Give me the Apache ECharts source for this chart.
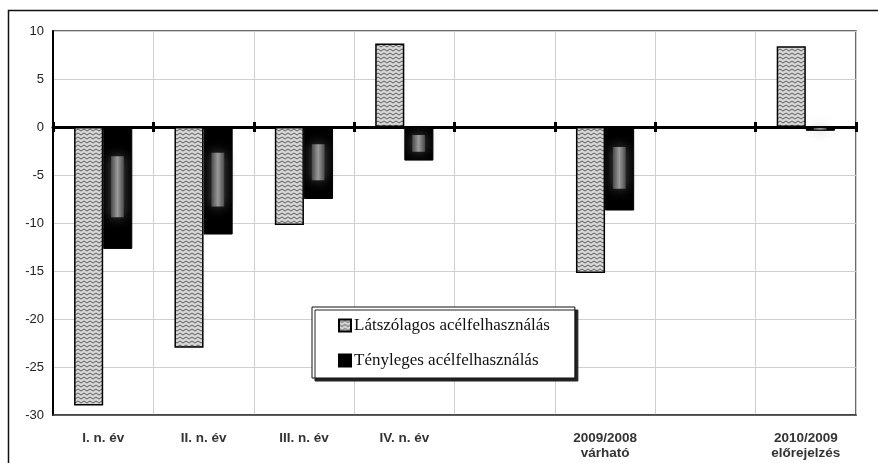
<!DOCTYPE html>
<html>
<head>
<meta charset="utf-8">
<script src="https://cdn.jsdelivr.net/npm/echarts@6/dist/echarts.min.js"></script>
<style>
  html, body { margin: 0; padding: 0; background: #fff; }
  #chart { width: 878px; height: 463px; }
</style>
</head>
<body>
<div id="chart"></div>
<script>
// Periods on the category axis (two unnamed gaps keep the original spacing)
const categories = ['I. n. év', 'II. n. év', 'III. n. év', 'IV. n. év', '', '2009/2008\nvárható', '', '2010/2009\nelőrejelzés'];
// Year-on-year change, %
const latszolagos = [-29, -23, -10.2, 8.7, null, -15.2, null, 8.4];
const tenyleges = [-12.7, -11.2, -7.5, -3.5, null, -8.7, null, -0.4];
const yTicks = { min: -30, max: 10, interval: 5 };

const seriesNames = ['Látszólagos acélfelhasználás', 'Tényleges acélfelhasználás'];

// Wavy hatch used as the fill of the first series
function wavePattern() {
  const c = document.createElement('canvas');
  c.width = 6; c.height = 4;
  const g = c.getContext('2d');
  g.fillStyle = '#d6d6d6';
  g.fillRect(0, 0, 6, 4);
  g.strokeStyle = '#5c5c5c';
  g.lineWidth = 1;
  g.beginPath();
  g.moveTo(0, 1); g.lineTo(3, 3); g.lineTo(6, 1);
  g.stroke();
  return c;
}

const BAR_FRAC = 0.29; // bar width as a share of the category band

const chart = echarts.init(document.getElementById('chart'), null, { renderer: 'canvas' });

const axisFont = { fontFamily: 'Liberation Sans, Arial, sans-serif', fontSize: 13.5, fontWeight: 'bold', color: '#333' };

chart.setOption({
  animation: false,
  backgroundColor: '#fff',
  grid: { left: 53, right: 22, top: 31, bottom: 48, show: true, borderColor: '#3a3a3a', borderWidth: 1.5, backgroundColor: 'transparent' },
  graphic: [{
    type: 'rect', z: -10, silent: true,
    shape: { x: 8.5, y: 10.5, width: 900, height: 500 },
    style: { fill: 'none', stroke: '#111', lineWidth: 1.5 }
  }],
  legend: {
    orient: 'vertical',
    left: 312, top: 307,
    data: seriesNames,
    icon: 'rect',
    backgroundColor: '#fff',
    borderColor: '#111', borderWidth: 1,
    shadowColor: '#222', shadowBlur: 0, shadowOffsetX: 3, shadowOffsetY: 3,
    padding: [10, 25, 9, 26],
    itemGap: 18,
    itemWidth: 12, itemHeight: 12,
    textStyle: { fontFamily: 'Liberation Serif, Times New Roman, serif', fontSize: 17, color: '#111', padding: [0, 0, 0, -2] }
  },
  xAxis: [{
    type: 'category', data: categories, position: 'bottom',
    axisLine: { onZero: false, lineStyle: { color: '#3a3a3a', width: 1.5 } },
    axisTick: { show: false },
    axisLabel: Object.assign({ margin: 16, lineHeight: 15, interval: 0 }, axisFont),
    splitLine: { show: true, lineStyle: { color: '#cfcfcf', width: 1 } }
  }, {
    // zero line with boundary ticks below it
    type: 'category', data: categories, position: 'bottom',
    axisLine: { onZero: true, lineStyle: { color: '#000', width: 3 } },
    axisTick: { show: true, length: 5, lineStyle: { color: '#000', width: 3 } },
    axisLabel: { show: false }, splitLine: { show: false }
  }, {
    // boundary ticks above the zero line (moved up to it after layout)
    type: 'category', data: categories, position: 'bottom',
    axisLine: { show: false, onZero: false },
    axisTick: { show: true, inside: true, length: 5, lineStyle: { color: '#000', width: 3 } },
    axisLabel: { show: false }, splitLine: { show: false }
  }],
  yAxis: {
    type: 'value', min: yTicks.min, max: yTicks.max, interval: yTicks.interval,
    axisLine: { show: true, onZero: false, lineStyle: { color: '#000', width: 2 } },
    axisTick: { show: false },
    axisLabel: { margin: 9, fontFamily: 'Liberation Sans, Arial, sans-serif', fontSize: 13, color: '#222' },
    splitLine: { show: true, lineStyle: { color: '#cfcfcf', width: 1 } }
  },
  series: [{
    name: seriesNames[0], type: 'bar', data: latszolagos,
    barGap: '0%', barCategoryGap: '42%',
    itemStyle: { color: { image: wavePattern(), repeat: 'repeat' }, borderColor: '#000', borderWidth: 1.5 },
    z: 3
  }, {
    name: seriesNames[1], type: 'bar', data: tenyleges,
    itemStyle: { color: '#000', borderColor: '#000', borderWidth: 1 },
    z: 3
  }, {
    // soft grey core inside each dark bar
    name: 'core', type: 'custom', silent: true, z: 4,
    data: tenyleges.map((v, i) => [i, v]),
    encode: { x: 0, y: 1 },
    renderItem: function (params, api) {
      const v = api.value(1);
      if (v === null || isNaN(v)) return null;
      const band = api.size([1, 0])[0];
      const base = api.coord([api.value(0), 0]);
      const tip = api.coord([api.value(0), v]);
      const bw = band * BAR_FRAC;
      const h = tip[1] - base[1];
      const x = base[0] + bw * 0.27;
      const w = bw * 0.44;
      const y0 = base[1] + h * 0.24;
      const hh = h * 0.5;
      return {
        type: 'rect',
        shape: { x: x, y: Math.min(y0, y0 + hh), width: w, height: Math.abs(hh) },
        style: {
          fill: new echarts.graphic.LinearGradient(0, 0, 1, 0, [
            { offset: 0, color: '#4a4a4a' },
            { offset: 0.5, color: '#9a9a9a' },
            { offset: 1, color: '#4a4a4a' }
          ]),
          shadowBlur: 12, shadowColor: '#4a4a4a'
        }
      };
    }
  }]
});

// Shift the upward-tick axis onto the zero line
const zeroY = chart.convertToPixel({ yAxisIndex: 0 }, 0);
const bottomY = chart.convertToPixel({ yAxisIndex: 0 }, yTicks.min);
chart.setOption({ xAxis: [{}, {}, { offset: zeroY - bottomY }] });
</script>
</body>
</html>
